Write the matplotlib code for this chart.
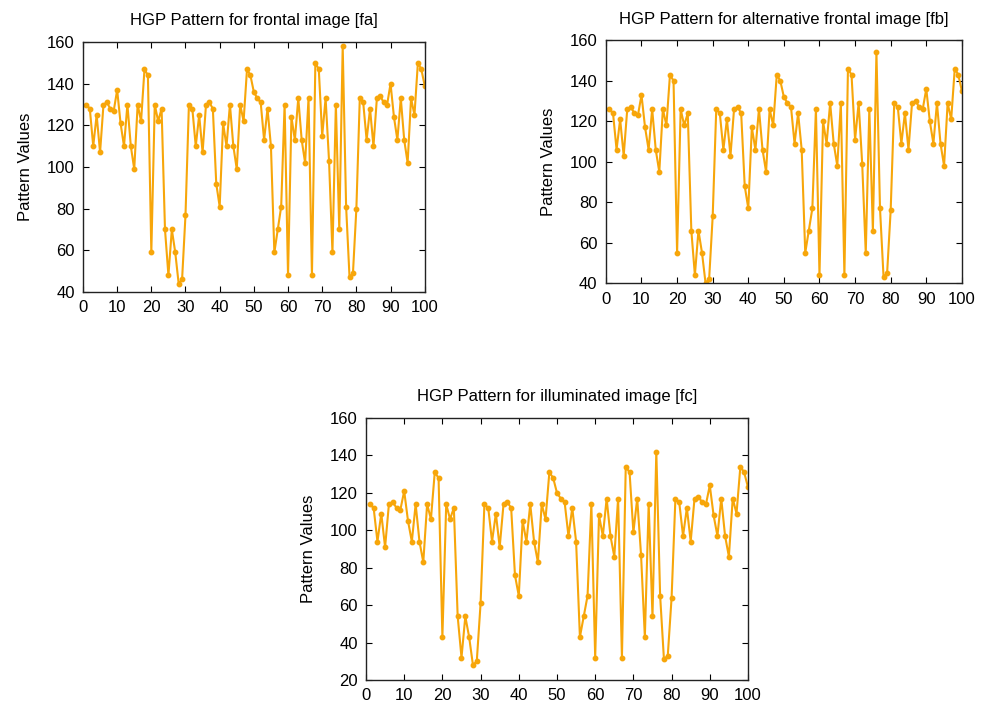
import numpy as np
import matplotlib
matplotlib.use("Agg")
import matplotlib.pyplot as plt

plt.rcParams["font.family"] = ["Liberation Sans", "DejaVu Sans"]

# x positions of the pattern (1..100)
x_vals = list(range(1, 101))

# HGP pattern values
fa_vals = [130, 128, 110, 125, 107, 130, 131, 128, 127, 137, 121, 110, 130, 110, 99, 130, 122, 147, 144, 59,
           130, 122, 128, 70, 48, 70, 59, 44, 46, 77, 130, 128, 110, 125, 107, 130, 131, 128, 92, 81,
           121, 110, 130, 110, 99, 130, 122, 147, 144, 136, 133, 131, 113, 128, 110, 59, 70, 81, 130, 48,
           124, 113, 133, 113, 102, 133, 48, 150, 147, 115, 133, 103, 59, 130, 70, 158, 81, 47, 49, 80,
           133, 131, 113, 128, 110, 133, 134, 131, 130, 140, 124, 113, 133, 113, 102, 133, 125, 150, 147, 139]

fb_vals = [126, 124, 106, 121, 103, 126, 127, 124, 123, 133, 117, 106, 126, 106, 95, 126, 118, 143, 140, 55,
           126, 118, 124, 66, 44, 66, 55, 40, 42, 73, 126, 124, 106, 121, 103, 126, 127, 124, 88, 77,
           117, 106, 126, 106, 95, 126, 118, 143, 140, 132, 129, 127, 109, 124, 106, 55, 66, 77, 126, 44,
           120, 109, 129, 109, 98, 129, 44, 146, 143, 111, 129, 99, 55, 126, 66, 154, 77, 43, 45, 76,
           129, 127, 109, 124, 106, 129, 130, 127, 126, 136, 120, 109, 129, 109, 98, 129, 121, 146, 143, 135]

fc_vals = [114, 112, 94, 109, 91, 114, 115, 112, 111, 121, 105, 94, 114, 94, 83, 114, 106, 131, 128, 43,
           114, 106, 112, 54, 32, 54, 43, 28, 30, 61, 114, 112, 94, 109, 91, 114, 115, 112, 76, 65,
           105, 94, 114, 94, 83, 114, 106, 131, 128, 120, 117, 115, 97, 112, 94, 43, 54, 65, 114, 32,
           108, 97, 117, 97, 86, 117, 32, 134, 131, 99, 117, 87, 43, 114, 54, 142, 65, 31, 33, 64,
           117, 115, 97, 112, 94, 117, 118, 115, 114, 124, 108, 97, 117, 97, 86, 117, 109, 134, 131, 123]

titles = ["HGP Pattern for frontal image [fa]",
          "HGP Pattern for alternative frontal image [fb]",
          "HGP Pattern for illuminated image [fc]"]

LINE_COLOR = "#f7a60a"

fig = plt.figure(figsize=(9.82, 7.08), dpi=100)

panels = [
    ([0.0845, 0.5876, 0.348, 0.353], fa_vals, (40, 160)),
    ([0.617, 0.600, 0.3625, 0.343], fb_vals, (40, 160)),
    ([0.3727, 0.0395, 0.389, 0.370], fc_vals, (20, 160)),
]

for (rect, vals, ylim), title in zip(panels, titles):
    ax = fig.add_axes(rect)
    ax.plot(x_vals, vals, color=LINE_COLOR, lw=1.5, marker="o", markersize=3.2)
    ax.set_xlim(0, 100)
    ax.set_ylim(*ylim)
    ax.set_xticks(np.arange(0, 101, 10))
    ax.set_yticks(np.arange(ylim[0], ylim[1] + 1, 20))
    ax.tick_params(direction="in", top=True, right=True, labelsize=12, length=4,
                   width=0.8, pad=6)
    ax.set_title(title, fontsize=12, pad=12)
    ax.set_ylabel("Pattern Values", fontsize=12, labelpad=10)
    for s in ax.spines.values():
        s.set_linewidth(1.0)
        s.set_color("#222222")

fig.savefig("out.png", dpi=100)
